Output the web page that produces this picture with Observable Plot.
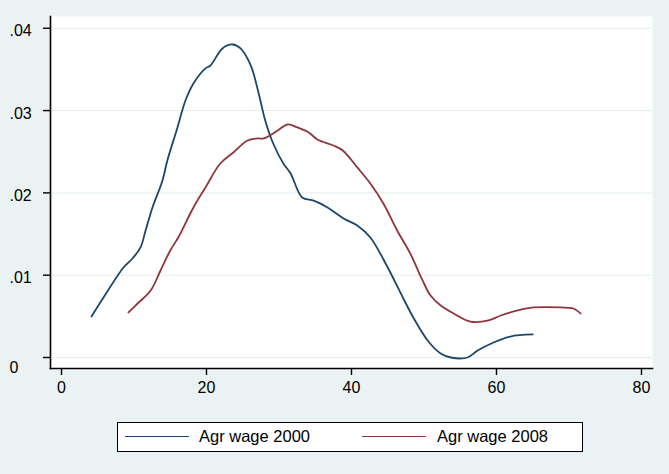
<!DOCTYPE html>
<html><head><meta charset="utf-8">
<script src="https://cdn.jsdelivr.net/npm/d3@7"></script>
<script src="https://cdn.jsdelivr.net/npm/@observablehq/plot@0.6"></script>
<style>
html,body{margin:0;padding:0;background:#EAF2F3;width:669px;height:474px;overflow:hidden;font-family:"Liberation Sans",Arial,sans-serif;}
#chart svg{display:block;}
#legend{position:relative;height:74px;width:669px;}
.box{position:absolute;left:117px;top:22px;width:466px;height:30px;box-sizing:border-box;border:1.5px solid #000;background:#fff;}
.sw{position:absolute;top:13px;width:64px;height:0;border-top:1.8px solid;}
.lab{position:absolute;top:4px;font-size:16.5px;line-height:18px;color:#000;white-space:nowrap;}
</style></head>
<body>
<div id="chart"></div>
<div id="legend"></div>
<script>
const series = ["Agr wage 2000", "Agr wage 2008"];
const colors = ["#1a476f", "#90353b"];
const xTicks = [0, 20, 40, 60, 80];
const yTicks = [0, 0.01, 0.02, 0.03, 0.04];
const yTickLabels = ["0", ".01", ".02", ".03", ".04"];

const age2000 = [4.14,5.79,8.55,9.79,10.9,11.6,12.55,13.93,14.6,16.0,17.1,18.2,19.86,20.55,22.2,23.6,24.7,26.1,27.2,28.1,29.2,30.6,31.6,33.2,34.8,36.7,38.9,40.8,42.6,45.0,46.8,48.6,50.5,52.3,53.7,56.0,57.4,59.6,61.9,65.0];
const dens2000 = [0.00498,0.00729,0.01094,0.01203,0.01337,0.01543,0.01823,0.02151,0.02394,0.02795,0.03123,0.03329,0.03512,0.03548,0.03755,0.03803,0.03755,0.03548,0.03208,0.0288,0.026,0.02357,0.02236,0.01944,0.01906,0.01823,0.01689,0.01604,0.01458,0.01094,0.00778,0.00474,0.00207,0.00049,0.0,0.0,0.00085,0.00182,0.00255,0.0028];
const age2008 = [9.24,10.5,12.3,13.66,15.0,16.1,18.2,19.86,21.9,23.7,25.66,27.0,27.9,28.8,29.8,31.2,32.55,34.1,35.3,37.5,38.8,40.8,42.6,44.4,46.3,48.1,49.8,50.9,52.3,54.1,56.4,58.9,60.6,62.9,65.1,68.8,70.6,71.6];
const dens2008 = [0.00547,0.00656,0.00814,0.01057,0.013,0.01458,0.01823,0.02066,0.02357,0.02491,0.02637,0.02661,0.02661,0.027,0.02758,0.02831,0.02795,0.02734,0.02649,0.02576,0.02515,0.02309,0.02114,0.01871,0.01543,0.01264,0.00936,0.00753,0.00632,0.00535,0.00437,0.0045,0.0051,0.00571,0.00608,0.00608,0.00595,0.00535];

const d2000 = age2000.map((x, i) => ({x, y: dens2000[i]}));
const d2008 = age2008.map((x, i) => ({x, y: dens2008[i]}));
const labelOf = d => yTickLabels[yTicks.indexOf(d)];

const plot = Plot.plot({
  width: 669,
  height: 400,
  marginLeft: 50,
  marginRight: 17,
  marginTop: 16,
  marginBottom: 32,
  style: {background: "transparent", fontFamily: "'Liberation Sans', Arial, sans-serif", fontSize: "16px", color: "#000"},
  x: {domain: [-1.517, 81.52]},
  y: {domain: [-0.001337, 0.04143]},
  marks: [
    Plot.frame({fill: "white", stroke: null}),
    Plot.gridY(yTicks, {stroke: "#e4ecee", strokeOpacity: 1, strokeWidth: 1}),
    Plot.line(d2000, {x: "x", y: "y", stroke: colors[0], strokeWidth: 1.8, curve: "catmull-rom"}),
    Plot.line(d2008, {x: "x", y: "y", stroke: colors[1], strokeWidth: 1.8, curve: "catmull-rom"}),
    Plot.frame({anchor: "left", stroke: "#000", strokeWidth: 1.6}),
    Plot.frame({anchor: "bottom", stroke: "#000", strokeWidth: 1.6}),
    Plot.axisX({ticks: xTicks, tickSize: 7, tickPadding: 6, tickFormat: d => String(d), label: null, stroke: "#000", strokeWidth: 1.4, fontSize: 16}),
    // tick marks only
    Plot.axisY({ticks: yTicks, tickSize: 7, tickFormat: () => "", label: null, stroke: "#000", strokeWidth: 1.4}),
    // labels only, left aligned like Stata
    Plot.axisY({ticks: yTicks.slice(1), tickSize: 0, tickPadding: 41, tickFormat: labelOf, textAnchor: "start", dy: 3, label: null, fontSize: 16}),
    Plot.axisY({ticks: yTicks.slice(0, 1), tickSize: 0, tickPadding: 41, tickFormat: labelOf, textAnchor: "start", dy: 10, label: null, fontSize: 16})
  ]
});
document.getElementById("chart").appendChild(plot);

const leg = document.getElementById("legend");
const box = document.createElement("div");
box.className = "box";
const swLeft = [7, 244];
const labLeft = [81, 319];
series.forEach((s, i) => {
  const sw = document.createElement("div");
  sw.className = "sw";
  sw.style.left = swLeft[i] + "px";
  sw.style.borderTopColor = colors[i];
  box.appendChild(sw);
  const lab = document.createElement("div");
  lab.className = "lab";
  lab.style.left = labLeft[i] + "px";
  lab.textContent = s;
  box.appendChild(lab);
});
leg.appendChild(box);
</script>
</body></html>
